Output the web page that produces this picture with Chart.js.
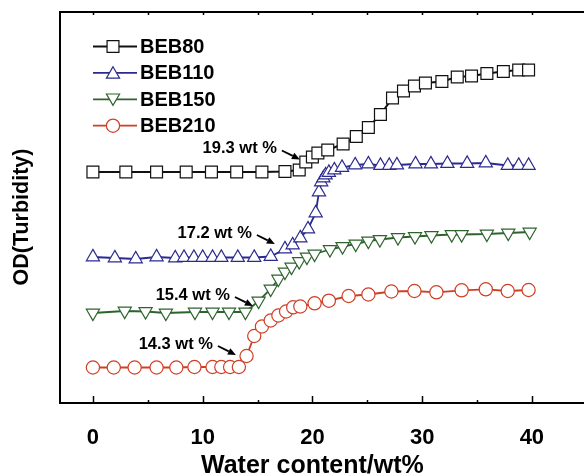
<!DOCTYPE html>
<html>
<head>
<meta charset="utf-8">
<script src="https://cdn.jsdelivr.net/npm/chart.js@4/dist/chart.umd.min.js"></script>
<style>
  html, body { margin: 0; padding: 0; background: #fff; overflow: hidden; }
  canvas { display: block; }
</style>
</head>
<body>
<canvas id="chart" width="584" height="476"></canvas>
<script>
// water content (wt%) and turbidity (arbitrary OD units)
const beb80X = [0, 3.0, 5.8, 8.5, 10.8, 13.1, 15.4, 17.5, 18.8, 19.4, 20.0, 20.5, 21.4, 22.8, 24.0, 25.1, 26.2, 27.3, 28.3, 29.3, 30.3, 31.8, 33.2, 34.5, 35.9, 37.4, 38.8, 39.7];
const beb80Y = [2.31, 2.31, 2.31, 2.31, 2.31, 2.31, 2.31, 2.315, 2.33, 2.41, 2.46, 2.50, 2.53, 2.59, 2.665, 2.755, 2.885, 3.05, 3.12, 3.17, 3.20, 3.215, 3.26, 3.27, 3.295, 3.315, 3.33, 3.33];

const beb110X = [0, 2.0, 3.9, 5.8, 7.5, 8.3, 9.2, 10.0, 10.9, 11.7, 13.2, 14.7, 16.2, 17.5, 18.2, 18.9, 19.6, 20.3, 20.6, 20.8, 21.0, 21.2, 21.5, 22.0, 22.7, 23.9, 25.1, 26.2, 27.0, 27.7, 29.4, 30.8, 32.3, 34.1, 35.8, 37.8, 38.8, 39.7];
const beb110Y = [1.46, 1.45, 1.44, 1.46, 1.45, 1.455, 1.455, 1.455, 1.455, 1.455, 1.455, 1.455, 1.465, 1.54, 1.58, 1.65, 1.74, 1.90, 2.11, 2.21, 2.25, 2.28, 2.305, 2.33, 2.355, 2.38, 2.39, 2.375, 2.375, 2.38, 2.39, 2.39, 2.395, 2.395, 2.40, 2.375, 2.375, 2.375];

const beb150X = [0, 2.9, 4.8, 6.65, 9.3, 10.9, 12.4, 13.9, 15.1, 16.2, 16.9, 17.5, 18.1, 18.8, 19.5, 20.2, 21.6, 22.75, 23.95, 25.1, 26.15, 27.8, 29.35, 30.85, 32.7, 33.6, 35.9, 37.85, 39.8];
const beb150Y = [0.90, 0.92, 0.915, 0.90, 0.91, 0.91, 0.91, 0.91, 1.02, 1.14, 1.24, 1.31, 1.36, 1.415, 1.46, 1.49, 1.535, 1.565, 1.59, 1.62, 1.635, 1.655, 1.665, 1.675, 1.685, 1.685, 1.69, 1.70, 1.71];

const beb210X = [0, 1.9, 3.8, 5.8, 7.6, 9.25, 10.9, 11.7, 12.5, 13.3, 14.0, 14.7, 15.4, 16.2, 16.9, 17.6, 18.25, 18.9, 20.2, 21.5, 23.3, 25.1, 27.2, 29.3, 31.3, 33.6, 35.8, 37.8, 39.7];
const beb210Y = [0.355, 0.355, 0.355, 0.355, 0.355, 0.36, 0.36, 0.36, 0.36, 0.36, 0.47, 0.67, 0.765, 0.825, 0.875, 0.915, 0.957, 0.965, 0.997, 1.023, 1.07, 1.085, 1.115, 1.12, 1.107, 1.127, 1.137, 1.12, 1.13];

const xTicks = [0, 10, 20, 30, 40];
const xMinorTicks = [5, 15, 25, 35];

// onset labels: text and the point (x, y) the arrow points at
const onsetText = ['19.3 wt %', '17.2 wt %', '15.4 wt %', '14.3 wt %'];
const onsetX = [18.86, 16.58, 14.58, 13.03];
const onsetY = [2.435, 1.59, 0.97, 0.48];

const FONT = 'Arial, "Liberation Sans", sans-serif';

const toPoints = (xs, ys) => xs.map((v, i) => ({ x: v, y: ys[i] }));

const datasets = [
  { label: 'BEB80', data: toPoints(beb80X, beb80Y), borderColor: '#111', pointStyle: 'rect', pointRadius: 8.4, pointRotation: 0, borderWidth: 2 },
  { label: 'BEB110', data: toPoints(beb110X, beb110Y), borderColor: '#2b2a8f', pointStyle: 'triangle', pointRadius: 7.6, pointRotation: 0, borderWidth: 1.8 },
  { label: 'BEB150', data: toPoints(beb150X, beb150Y), borderColor: '#2e632e', pointStyle: 'triangle', pointRadius: 7.6, pointRotation: 180, borderWidth: 1.8 },
  { label: 'BEB210', data: toPoints(beb210X, beb210Y), borderColor: '#cf3f25', pointStyle: 'circle', pointRadius: 6.6, pointRotation: 0, borderWidth: 1.8 },
].map(d => ({
  ...d,
  pointBackgroundColor: '#fff',
  pointBorderColor: d.borderColor,
  pointBorderWidth: 1.2,
  tension: 0,
}));

// frame top line, inward ticks, axis titles, legend and onset arrows
const decorations = {
  id: 'decorations',
  afterDraw(chart) {
    const { ctx, chartArea: a, scales: { x, y } } = chart;
    ctx.save();
    ctx.strokeStyle = '#000';
    ctx.lineWidth = 2;
    ctx.beginPath();
    ctx.moveTo(a.left - 1, a.top);
    ctx.lineTo(a.right, a.top);
    ctx.stroke();

    const seg = (x1, y1, x2, y2) => { ctx.beginPath(); ctx.moveTo(x1, y1); ctx.lineTo(x2, y2); ctx.stroke(); };
    ctx.lineWidth = 1.5;
    xTicks.forEach(v => {
      const px = Math.round(x.getPixelForValue(v)) + 0.5;
      seg(px, a.bottom, px, a.bottom - 7);
      seg(px, a.top, px, a.top + 3);
    });
    xMinorTicks.forEach(v => {
      const px = Math.round(x.getPixelForValue(v)) + 0.5;
      seg(px, a.bottom, px, a.bottom - 3);
      seg(px, a.top, px, a.top + 3);
    });

    // axis titles
    ctx.fillStyle = '#000';
    ctx.textAlign = 'center';
    ctx.textBaseline = 'middle';
    ctx.font = 'bold 25px ' + FONT;
    ctx.fillText('Water content/wt%', x.getPixelForValue(20), 466);
    ctx.save();
    ctx.translate(22, 217);
    ctx.rotate(-Math.PI / 2);
    ctx.font = 'bold 21.5px ' + FONT;
    ctx.fillText('OD(Turbidity)', 0, 0);
    ctx.restore();

    // legend: line - marker - line, then the name
    chart.data.datasets.forEach((d, i) => {
      const ly = 46.5 + i * 26.4;
      ctx.strokeStyle = d.borderColor;
      ctx.lineWidth = d.borderWidth;
      seg(93, ly, 137, ly);
      ctx.fillStyle = '#fff';
      ctx.lineWidth = d.pointBorderWidth;
      Chart.helpers.drawPoint(ctx, {
        pointStyle: d.pointStyle, rotation: d.pointRotation,
        radius: d.pointRadius, borderWidth: d.pointBorderWidth,
      }, 113, ly + (d.pointStyle === 'triangle' ? (d.pointRotation ? -1.5 : 1.5) : 0));
      ctx.fillStyle = '#000';
      ctx.font = 'bold 20px ' + FONT;
      ctx.textAlign = 'left';
      ctx.textBaseline = 'middle';
      ctx.fillText(d.label, 140, ly + 1);
    });

    // onset arrows
    ctx.strokeStyle = '#000';
    ctx.fillStyle = '#000';
    ctx.font = 'bold 16.5px ' + FONT;
    ctx.textAlign = 'right';
    ctx.textBaseline = 'middle';
    onsetText.forEach((t, i) => {
      const tx = x.getPixelForValue(onsetX[i]);
      const ty = y.getPixelForValue(onsetY[i]);
      const sx = tx - 18, sy = ty - 9;
      const ang = Math.atan2(ty - sy, tx - sx);
      const hl = 8, hw = 3.5;
      const bx = tx - hl * Math.cos(ang), by = ty - hl * Math.sin(ang);
      ctx.lineWidth = 1.8;
      seg(sx, sy, bx, by);
      ctx.beginPath();
      ctx.moveTo(tx, ty);
      ctx.lineTo(bx + hw * Math.sin(ang), by - hw * Math.cos(ang));
      ctx.lineTo(bx - hw * Math.sin(ang), by + hw * Math.cos(ang));
      ctx.closePath();
      ctx.fill();
      ctx.fillText(t, sx - 5, sy - 2);
    });
    ctx.restore();
  }
};

new Chart(document.getElementById('chart'), {
  type: 'line',
  data: { datasets },
  options: {
    responsive: false,
    animation: false,
    layout: { autoPadding: false, padding: { top: 12, right: 0, bottom: 0, left: 0 } },
    plugins: { legend: { display: false }, tooltip: { enabled: false } },
    scales: {
      x: {
        type: 'linear',
        min: -3,
        max: 44.75,
        afterBuildTicks: s => { s.ticks = xTicks.map(v => ({ value: v })); },
        afterFit: s => { s.height = 73; s.paddingLeft = 0; s.paddingRight = 0; },
        grid: { display: false, drawTicks: false },
        border: { display: true, color: '#000', width: 2 },
        ticks: { padding: 22, color: '#000', font: { family: FONT, size: 22, weight: 'bold' } },
      },
      y: {
        min: 0,
        max: 3.91,
        afterFit: s => { s.width = 60; },
        grid: { display: false, drawTicks: false },
        border: { display: true, color: '#000', width: 2 },
        ticks: { display: false },
      },
    },
  },
  plugins: [decorations],
});
</script>
</body>
</html>
